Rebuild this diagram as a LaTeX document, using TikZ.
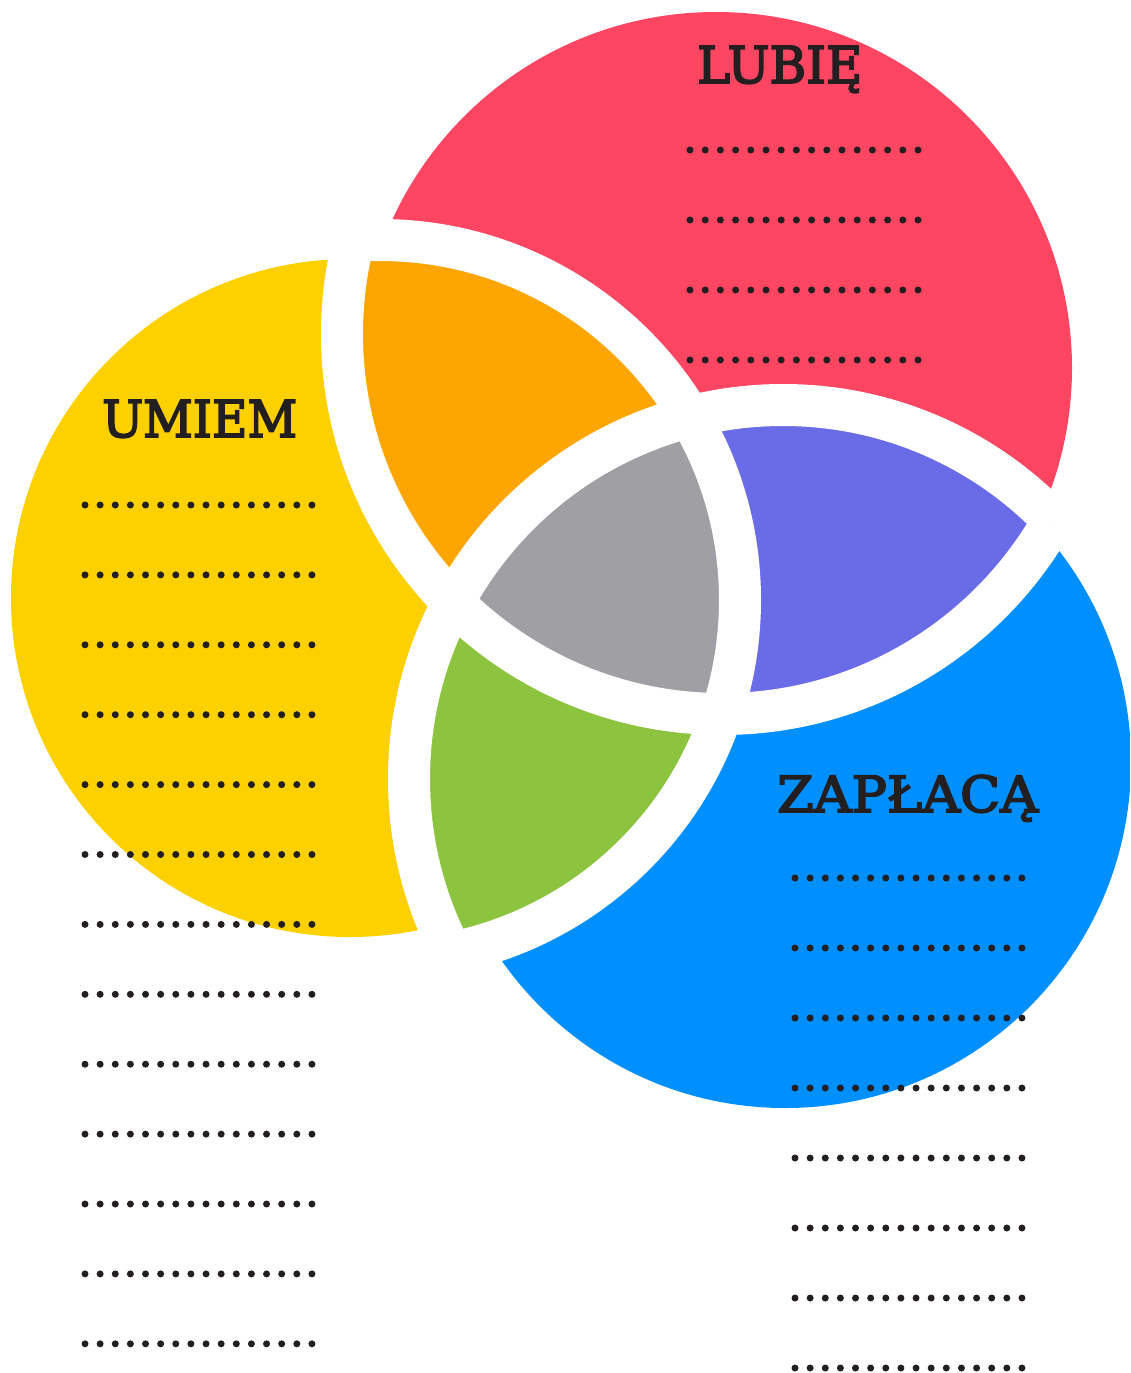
\documentclass[tikz,border=0pt]{standalone}
\usepackage{fontspec}
\setmainfont{DejaVu Serif}
\newfontfamily\titlefont[FakeBold=3.5]{DejaVu Serif}
\usepackage{graphicx}
\definecolor{cyel}{HTML}{FDD000}
\definecolor{cred}{HTML}{FE4562}
\definecolor{cblu}{HTML}{008FFF}
\definecolor{cora}{HTML}{FDA500}
\definecolor{cpur}{HTML}{6A6BE6}
\definecolor{cgre}{HTML}{8DC43F}
\definecolor{cgra}{HTML}{A0A0A4}
\definecolor{ink}{HTML}{231F20}
\tikzset{
  gapline/.style={draw=white, line width=42pt},
  lbl/.style={inner sep=0pt, text=ink, anchor=base west, font=\titlefont\fontsize{40}{40}\selectfont},
  dotmark/.style={fill=ink}
}
\begin{document}
\begin{tikzpicture}[x=1pt,y=-1pt]
\useasboundingbox (0,0) rectangle (1130,1373);
\fill[white] (0,0) rectangle (1130,1373);
% gap circles
\coordinate (gy) at (380,600);
\coordinate (gr) at (722,334);
\coordinate (gb) at (783,779);
% fill circles
\coordinate (fy) at (350,598);
\coordinate (fr) at (716,368);
\coordinate (fb) at (785,762);
% yellow only
\begin{scope}
  \clip (0,0) -- (1130,0) -- (1130,1373) -- (0,1373) -- cycle (gr) ++(380,0) arc[start angle=0,end angle=-360,radius=380];
  \clip (0,0) -- (1130,0) -- (1130,1373) -- (0,1373) -- cycle (gb) ++(374,0) arc[start angle=0,end angle=-360,radius=374];
  \fill[cyel] (fy) circle[radius=339];
\end{scope}
% red only
\begin{scope}
  \clip (0,0) -- (1130,0) -- (1130,1373) -- (0,1373) -- cycle (gy) ++(360,0) arc[start angle=0,end angle=-360,radius=360];
  \clip (0,0) -- (1130,0) -- (1130,1373) -- (0,1373) -- cycle (gb) ++(374,0) arc[start angle=0,end angle=-360,radius=374];
  \fill[cred] (fr) circle[radius=356];
\end{scope}
% blue only
\begin{scope}
  \clip (0,0) -- (1130,0) -- (1130,1373) -- (0,1373) -- cycle (gy) ++(360,0) arc[start angle=0,end angle=-360,radius=360];
  \clip (0,0) -- (1130,0) -- (1130,1373) -- (0,1373) -- cycle (gr) ++(380,0) arc[start angle=0,end angle=-360,radius=380];
  \fill[cblu] (fb) circle[radius=346];
\end{scope}
% pairwise overlaps
\begin{scope}
  \clip (gy) circle[radius=360];
  \fill[cora] (gr) circle[radius=380];
\end{scope}
\begin{scope}
  \clip (gr) circle[radius=380];
  \fill[cpur] (gb) circle[radius=374];
\end{scope}
\begin{scope}
  \clip (gy) circle[radius=360];
  \fill[cgre] (gb) circle[radius=374];
\end{scope}
% triple overlap
\begin{scope}
  \clip (gy) circle[radius=360];
  \clip (gr) circle[radius=380];
  \fill[cgra] (gb) circle[radius=374];
\end{scope}
% white gaps
\begin{scope}
  \clip (gr) circle[radius=380] (gb) circle[radius=374];
  \draw[gapline] (gy) circle[radius=360];
\end{scope}
\begin{scope}
  \clip (gy) circle[radius=360] (gb) circle[radius=374];
  \draw[gapline] (gr) circle[radius=380];
\end{scope}
\begin{scope}
  \clip (gy) circle[radius=360] (gr) circle[radius=380];
  \draw[gapline] (gb) circle[radius=374];
\end{scope}
% titles
\node[lbl] (umiem) at (102,437) {\resizebox{195pt}{37pt}{UMIEM}};
\node[lbl] (lubie) at (697,83) {\resizebox{165pt}{37pt}{LUBIĘ}};
\node[lbl] (zaplaca) at (777,812) {\resizebox{261pt}{37pt}{ZAPŁACĄ}};
% dotted lines
\foreach \k in {0,...,12}
  \foreach \i in {0,...,15}
    \fill[dotmark] ({85+15.13*\i},{505+69.9*\k}) circle[radius=3.5];
\foreach \k in {0,...,3}
  \foreach \i in {0,...,15}
    \fill[dotmark] ({690+15.2*\i},{150+70*\k}) circle[radius=3.5];
\foreach \k in {0,...,7}
  \foreach \i in {0,...,15}
    \fill[dotmark] ({795+15.13*\i},{878+70*\k}) circle[radius=3.5];
\end{tikzpicture}
\end{document}
